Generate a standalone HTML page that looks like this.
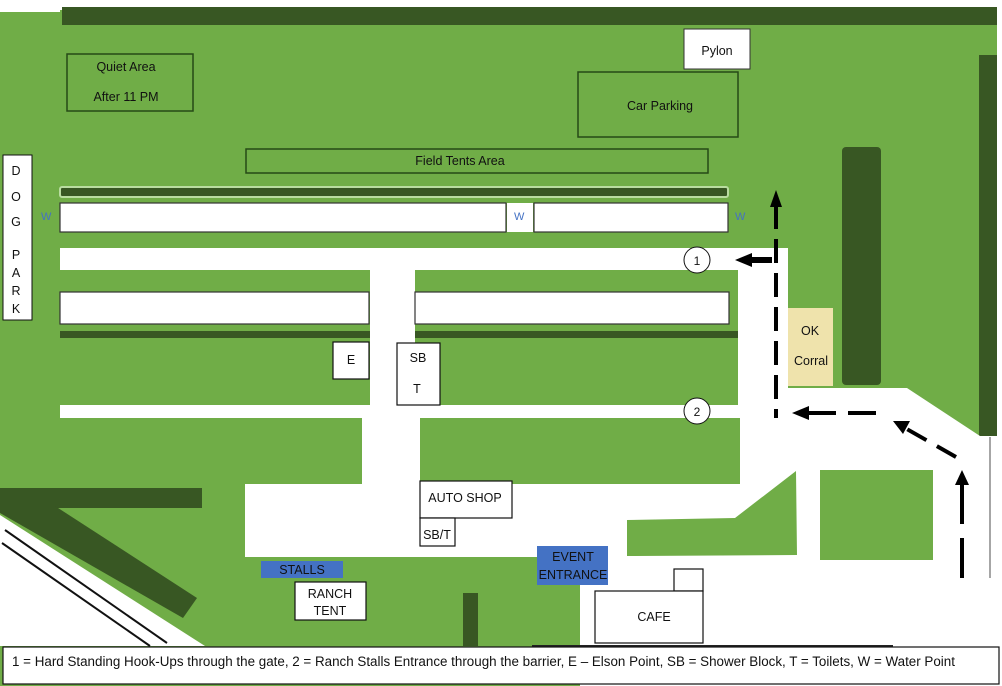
<!DOCTYPE html>
<html><head><meta charset="utf-8"><style>
html,body{margin:0;padding:0;background:#fff}
svg{display:block}
text{font-family:"Liberation Sans",sans-serif;font-size:12.5px;fill:#111}
text.w{fill:#4472c4;font-size:11px}
</style></head><body>
<svg width="1002" height="686" viewBox="0 0 1002 686" xmlns="http://www.w3.org/2000/svg">
<rect x="0" y="0" width="1002" height="686" fill="#fff"/>
<rect x="0" y="10" width="997" height="676" fill="#70ad47"/>
<rect x="0" y="0" width="60" height="12" fill="#fff"/>
<rect x="62" y="7" width="935" height="18" fill="#385723"/>
<rect x="979" y="55" width="18" height="382" fill="#385723"/>
<rect x="842" y="147" width="39" height="238" rx="4" fill="#385723"/>
<g fill="#fff">
<rect x="60" y="248" width="728" height="22"/>
<rect x="738" y="248" width="50" height="175"/>
<rect x="370" y="270" width="45" height="287"/>
<rect x="60" y="405" width="680" height="13"/>
<rect x="362" y="405" width="58" height="80"/>
<rect x="245" y="484" width="757" height="73"/>
<rect x="580" y="555" width="422" height="131"/>
<polygon points="740,388 907,388 980,436 1002,436 1002,560 740,560"/>
<polygon points="0,515 205,646 0,646"/>
</g>
<rect x="420" y="418" width="320" height="66" fill="#70ad47"/>
<polygon points="627,520 735,518 796,471 797,555 627,556" fill="#70ad47"/>
<rect x="820" y="470" width="113" height="90" fill="#70ad47"/>
<rect x="500" y="557" width="80" height="90" fill="#70ad47"/>
<line x1="990" y1="437" x2="990" y2="578" stroke="#888" stroke-width="1.5"/>
<rect x="0" y="488" width="202" height="20" fill="#385723"/>
<polygon points="0,506 55,506 197,598 183,618 0,513" fill="#385723"/>
<line x1="5" y1="530" x2="167" y2="643" stroke="#111" stroke-width="2"/>
<line x1="2" y1="543" x2="150" y2="646" stroke="#111" stroke-width="2"/>
<rect x="463" y="593" width="15" height="53" fill="#385723"/>
<rect x="60" y="187" width="668" height="10" rx="2" fill="#385723" stroke="#b9dca0" stroke-width="2"/>
<g fill="#fff" stroke="#333" stroke-width="1.2">
<rect x="60" y="203" width="446" height="29"/>
<rect x="534" y="203" width="194" height="29"/>
<rect x="60" y="292" width="309" height="32"/>
<rect x="415" y="292" width="314" height="32"/>
</g>
<rect x="507" y="203" width="26" height="29" fill="#fff"/>
<rect x="60" y="331" width="310" height="7" fill="#385723"/>
<rect x="415" y="331" width="323" height="7" fill="#385723"/>
<text class="w" x="41" y="220">W</text><text class="w" x="514" y="220">W</text><text class="w" x="735" y="220">W</text>
<g fill="none" stroke="#264a17" stroke-width="1.5">
<rect x="67" y="54" width="126" height="57"/>
<rect x="578" y="72" width="160" height="65"/>
<rect x="246" y="149" width="462" height="24"/>
</g>
<text x="126" y="71" text-anchor="middle">Quiet Area</text>
<text x="126" y="101" text-anchor="middle">After 11 PM</text>
<text x="660" y="110" text-anchor="middle">Car Parking</text>
<text x="460" y="165" text-anchor="middle">Field Tents Area</text>
<rect x="684" y="29" width="66" height="40" fill="#fff" stroke="#333"/>
<text x="717" y="55" text-anchor="middle">Pylon</text>
<rect x="3" y="155" width="29" height="165" fill="#fff" stroke="#111"/>
<text x="16" y="175" text-anchor="middle">D</text><text x="16" y="201" text-anchor="middle">O</text><text x="16" y="226" text-anchor="middle">G</text>
<text x="16" y="259" text-anchor="middle">P</text><text x="16" y="277" text-anchor="middle">A</text><text x="16" y="295" text-anchor="middle">R</text><text x="16" y="313" text-anchor="middle">K</text>
<circle cx="697" cy="260" r="13" fill="#fff" stroke="#111"/>
<text x="697" y="265" text-anchor="middle" style="font-size:12px">1</text>
<circle cx="697" cy="411" r="13" fill="#fff" stroke="#111"/>
<text x="697" y="416" text-anchor="middle" style="font-size:12px">2</text>
<rect x="788" y="308" width="45" height="78" fill="#efe3ac"/>
<text x="810" y="335" text-anchor="middle">OK</text>
<text x="811" y="365" text-anchor="middle">Corral</text>
<g stroke="#000" stroke-width="4" fill="none">
<line x1="776" y1="205" x2="776" y2="418" stroke-dasharray="24,10"/>
<line x1="750" y1="260" x2="772" y2="260" stroke-width="6"/>
<line x1="808" y1="413" x2="888" y2="413" stroke-dasharray="28,12"/>
<line x1="956" y1="457" x2="905" y2="428" stroke-dasharray="22,12"/>
<line x1="962" y1="578" x2="962" y2="482" stroke-dasharray="40,14"/>
</g>
<g fill="#000">
<polygon points="776,190 770,207 782,207"/>
<polygon points="735,260 752,253 752,267"/>
<polygon points="792,413 809,406 809,420"/>
<polygon points="893,421 910,421 903,434"/>
<polygon points="962,470 955,485 969,485"/>
</g>
<g fill="#fff" stroke="#111" stroke-width="1.2">
<rect x="333" y="342" width="36" height="37"/>
<rect x="397" y="343" width="43" height="62"/>
<rect x="420" y="481" width="92" height="37"/>
<rect x="420" y="518" width="35" height="28"/>
<rect x="295" y="582" width="71" height="38"/>
<rect x="674" y="569" width="29" height="22"/>
<rect x="595" y="591" width="108" height="52"/>
</g>
<text x="351" y="364" text-anchor="middle">E</text>
<text x="418" y="362" text-anchor="middle">SB</text>
<text x="417" y="393" text-anchor="middle">T</text>
<text x="465" y="502" text-anchor="middle">AUTO SHOP</text>
<text x="437" y="539" text-anchor="middle">SB/T</text>
<text x="330" y="598" text-anchor="middle">RANCH</text>
<text x="330" y="615" text-anchor="middle">TENT</text>
<text x="654" y="621" text-anchor="middle">CAFE</text>
<rect x="261" y="561" width="82" height="17" fill="#4472c4"/>
<text x="302" y="574" text-anchor="middle">STALLS</text>
<rect x="537" y="546" width="71" height="39" fill="#4472c4"/>
<text x="573" y="561" text-anchor="middle">EVENT</text>
<text x="573" y="579" text-anchor="middle">ENTRANCE</text>
<line x1="532" y1="646" x2="893" y2="646" stroke="#222" stroke-width="2"/>
<rect x="3" y="647" width="996" height="37" fill="#fff" stroke="#111" stroke-width="1.2"/>
<text x="12" y="666" style="font-size:13.4px">1 = Hard Standing Hook-Ups through the gate,  2 = Ranch Stalls Entrance through the barrier,  E – Elson Point,  SB = Shower Block,  T = Toilets, W = Water Point</text>
</svg>
</body></html>
